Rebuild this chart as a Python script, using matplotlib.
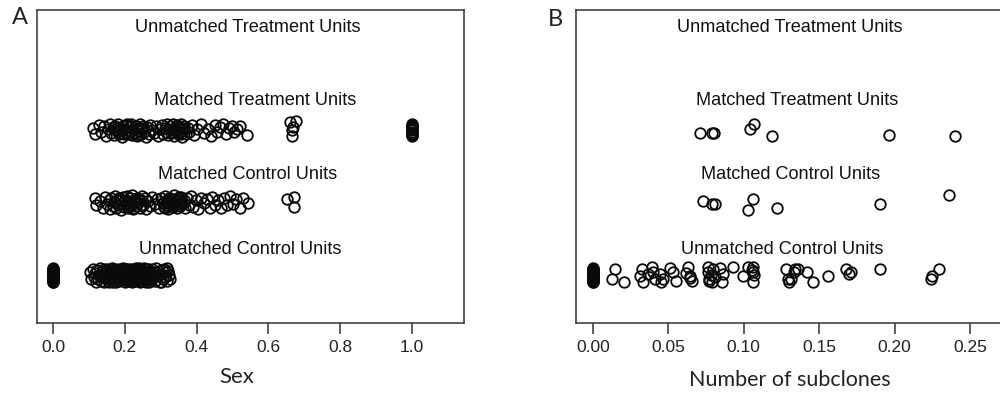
import matplotlib
matplotlib.use("Agg")
import matplotlib.pyplot as plt

# row positions (R MatchIt style jitter plot)
row_names = ["Unmatched Control Units", "Matched Control Units",
             "Matched Treatment Units", "Unmatched Treatment Units"]

# ---- panel A: Sex ----
a_mt = [(0.112, 0.03), (0.118, -0.06), (0.128, 0.07), (0.135, -0.02), (0.142, 0.05),
        (0.148, -0.08), (0.152, 0.01), (0.158, 0.08), (0.161, -0.04), (0.166, 0.04),
        (0.170, -0.07), (0.174, 0.06), (0.178, -0.01), (0.182, 0.09), (0.185, -0.05),
        (0.189, 0.02), (0.193, -0.09), (0.196, 0.05), (0.200, -0.03), (0.203, 0.07),
        (0.206, 0.00), (0.209, -0.06), (0.212, 0.04), (0.215, -0.02), (0.218, 0.08),
        (0.221, -0.07), (0.224, 0.02), (0.227, -0.04), (0.230, 0.06), (0.233, -0.08),
        (0.236, 0.03), (0.239, -0.01), (0.242, 0.09), (0.245, -0.05), (0.248, 0.01),
        (0.251, 0.06), (0.254, -0.03), (0.258, -0.09), (0.262, 0.04), (0.266, -0.06),
        (0.270, 0.07), (0.275, 0.00), (0.281, -0.04), (0.287, 0.05), (0.293, -0.08),
        (0.298, 0.02), (0.303, 0.07), (0.307, -0.05), (0.311, 0.03), (0.315, -0.02),
        (0.318, 0.08), (0.321, -0.07), (0.324, 0.01), (0.327, 0.05), (0.330, -0.04),
        (0.333, 0.09), (0.336, -0.08), (0.339, 0.02), (0.342, -0.01), (0.345, 0.06),
        (0.348, -0.06), (0.351, 0.04), (0.354, -0.03), (0.357, 0.08), (0.360, -0.09),
        (0.363, 0.01), (0.366, 0.05), (0.370, -0.05), (0.375, 0.03), (0.380, -0.02),
        (0.386, 0.07), (0.393, -0.07), (0.402, 0.02), (0.412, 0.08), (0.421, -0.04),
        (0.432, 0.01), (0.441, -0.08), (0.450, 0.07), (0.457, -0.02), (0.466, 0.04),
        (0.474, 0.08), (0.482, -0.05), (0.490, 0.03), (0.498, 0.06), (0.505, -0.03),
        (0.513, 0.01), (0.522, 0.05), (0.540, -0.07),
        (0.176, 0.02), (0.198, -0.06), (0.219, 0.05), (0.240, -0.07), (0.252, 0.03),
        (0.334, -0.02), (0.346, 0.07), (0.356, -0.06), (0.364, 0.03), (0.205, 0.09),
        (0.660, 0.11), (0.678, 0.12), (0.665, 0.00), (0.665, -0.08), (0.668, 0.04)]
a_mt_one_dy = [-0.08, -0.065, -0.05, -0.035, -0.02, -0.005, 0.01, 0.025, 0.04, 0.055, 0.07, 0.08]

a_mc = [(0.117, 0.06), (0.121, -0.04), (0.130, 0.02), (0.138, -0.08), (0.145, 0.08),
        (0.150, -0.02), (0.155, 0.04), (0.158, -0.09), (0.162, 0.07), (0.166, -0.05),
        (0.170, 0.01), (0.173, 0.09), (0.176, -0.07), (0.179, 0.03), (0.182, -0.03),
        (0.185, 0.06), (0.188, -0.10), (0.191, 0.00), (0.194, 0.08), (0.197, -0.06),
        (0.200, 0.04), (0.203, -0.02), (0.206, 0.09), (0.209, -0.08), (0.212, 0.02),
        (0.215, 0.06), (0.218, -0.04), (0.221, 0.10), (0.224, -0.09), (0.227, 0.01),
        (0.230, -0.05), (0.233, 0.07), (0.236, -0.01), (0.239, 0.05), (0.242, -0.07),
        (0.245, 0.03), (0.248, 0.09), (0.252, -0.03), (0.256, 0.06), (0.260, -0.09),
        (0.265, 0.02), (0.270, -0.05), (0.276, 0.08), (0.283, -0.02), (0.290, 0.05),
        (0.296, -0.08), (0.302, 0.07), (0.306, 0.00), (0.309, -0.06), (0.312, 0.09),
        (0.315, -0.03), (0.318, 0.04), (0.321, -0.09), (0.324, 0.07), (0.327, -0.01),
        (0.330, 0.05), (0.333, -0.06), (0.336, 0.10), (0.339, -0.04), (0.342, 0.02),
        (0.345, -0.08), (0.348, 0.06), (0.351, 0.00), (0.354, -0.05), (0.357, 0.08),
        (0.360, -0.02), (0.364, 0.04), (0.368, -0.07), (0.373, 0.06), (0.378, -0.03),
        (0.384, 0.09), (0.390, -0.06), (0.398, 0.03), (0.405, -0.09), (0.413, 0.07),
        (0.420, -0.01), (0.428, 0.05), (0.436, -0.07), (0.444, 0.08), (0.452, -0.03),
        (0.460, 0.04), (0.468, -0.08), (0.476, 0.06), (0.484, -0.04), (0.492, 0.09),
        (0.500, -0.02), (0.510, 0.05), (0.520, -0.07), (0.530, 0.07), (0.543, -0.01),
        (0.187, 0.04), (0.207, -0.05), (0.228, 0.05), (0.246, -0.04), (0.322, 0.01),
        (0.334, -0.03), (0.346, 0.03), (0.358, 0.00), (0.226, -0.07), (0.352, 0.08),
        (0.313, -0.07), (0.326, 0.06), (0.338, -0.01), (0.329, 0.02), (0.317, 0.00),
        (0.651, 0.05), (0.672, 0.08), (0.670, -0.06)]

a_uc = [(0.103, 0.05), (0.106, -0.06), (0.110, 0.09), (0.113, -0.02), (0.117, 0.03),
        (0.120, -0.09), (0.123, 0.07), (0.126, -0.05), (0.129, 0.00), (0.132, 0.10),
        (0.134, -0.08), (0.137, 0.04), (0.139, -0.03), (0.141, 0.08), (0.143, -0.10),
        (0.145, 0.02), (0.147, 0.06), (0.149, -0.06), (0.151, 0.09), (0.153, -0.01),
        (0.155, 0.05), (0.157, -0.09), (0.159, 0.01), (0.161, 0.07), (0.163, -0.04),
        (0.165, 0.10), (0.167, -0.07), (0.169, 0.03), (0.171, -0.02), (0.173, 0.08),
        (0.175, -0.10), (0.177, 0.04), (0.179, -0.05), (0.181, 0.00), (0.183, 0.09),
        (0.185, -0.08), (0.187, 0.06), (0.189, -0.03), (0.191, 0.02), (0.193, -0.06),
        (0.195, 0.10), (0.197, -0.01), (0.199, 0.05), (0.201, -0.09), (0.203, 0.07),
        (0.205, -0.04), (0.207, 0.01), (0.209, 0.08), (0.211, -0.07), (0.213, 0.03),
        (0.215, -0.02), (0.217, 0.09), (0.219, -0.10), (0.221, 0.04), (0.223, -0.05),
        (0.225, 0.06), (0.227, 0.00), (0.229, -0.08), (0.231, 0.10), (0.233, -0.03),
        (0.235, 0.05), (0.237, -0.06), (0.239, 0.02), (0.241, 0.08), (0.243, -0.09),
        (0.245, 0.01), (0.247, -0.04), (0.249, 0.07), (0.251, -0.01), (0.253, 0.10),
        (0.255, -0.07), (0.257, 0.03), (0.259, -0.05), (0.261, 0.09), (0.263, -0.02),
        (0.265, 0.05), (0.267, -0.10), (0.269, 0.06), (0.271, 0.00), (0.273, -0.06),
        (0.276, 0.08), (0.279, -0.03), (0.282, 0.04), (0.285, -0.08), (0.288, 0.10),
        (0.291, -0.01), (0.294, 0.06), (0.297, -0.09), (0.300, 0.02), (0.303, 0.07),
        (0.306, -0.05), (0.309, 0.09), (0.312, -0.02), (0.315, 0.04), (0.318, -0.08),
        (0.321, 0.06), (0.324, 0.00), (0.327, -0.06), (0.318, 0.10), (0.300, -0.10),
        (0.146, -0.04), (0.158, 0.06), (0.168, -0.09), (0.176, 0.07), (0.184, -0.02),
        (0.192, 0.05), (0.198, -0.07), (0.204, 0.09), (0.210, -0.05), (0.216, 0.02),
        (0.222, -0.08), (0.228, 0.07), (0.234, -0.01), (0.240, 0.10), (0.246, -0.06),
        (0.252, 0.04), (0.258, -0.09), (0.264, 0.08), (0.270, -0.04), (0.180, 0.03),
        (0.152, 0.03), (0.162, -0.03), (0.172, 0.05), (0.182, -0.06), (0.190, 0.08),
        (0.196, -0.04), (0.202, 0.02), (0.208, -0.08), (0.214, 0.06), (0.220, -0.01),
        (0.226, 0.09), (0.232, -0.05), (0.238, 0.03), (0.244, -0.08), (0.250, 0.06),
        (0.256, 0.00), (0.262, -0.07), (0.268, 0.04), (0.274, -0.02), (0.186, 0.01)]
a_uc_zero_dy = [-0.10, -0.09, -0.08, -0.07, -0.06, -0.05, -0.04, -0.03, -0.02, -0.01, 0.0,
                0.01, 0.02, 0.03, 0.04, 0.05, 0.06, 0.07, 0.08, 0.09, 0.10]

a_ticks = [0.0, 0.2, 0.4, 0.6, 0.8, 1.0]
a_ticklabels = ["0.0", "0.2", "0.4", "0.6", "0.8", "1.0"]

# ---- panel B: Number of subclones ----
b_mt = [(0.071, -0.04), (0.079, -0.04), (0.0805, -0.04), (0.104, 0.01), (0.1065, 0.08),
        (0.119, -0.08), (0.196, -0.07), (0.240, -0.08)]
b_mc = [(0.073, 0.02), (0.079, -0.02), (0.081, -0.02), (0.103, -0.10), (0.106, 0.05),
        (0.122, -0.08), (0.190, -0.02), (0.236, 0.10)]
b_uc = [(0.0148, 0.08), (0.0126, -0.055), (0.021, -0.10), (0.0324, 0.08), (0.0313, -0.01),
        (0.0335, -0.10), (0.039, 0.11), (0.040, 0.04), (0.041, -0.055), (0.0446, 0.01),
        (0.0468, -0.055), (0.0512, 0.10), (0.0534, 0.04), (0.0554, -0.08), (0.0633, 0.11),
        (0.0644, -0.01), (0.0656, -0.08), (0.0766, 0.11), (0.0766, 0.04), (0.0772, -0.055),
        (0.0788, -0.10), (0.0799, 0.08), (0.0843, 0.10), (0.0854, -0.10), (0.0931, 0.11),
        (0.0997, -0.01), (0.103, 0.11), (0.106, 0.11), (0.106, 0.04), (0.106, -0.10),
        (0.128, 0.08), (0.131, -0.055), (0.134, 0.08), (0.136, 0.08), (0.142, 0.04),
        (0.146, -0.10), (0.156, -0.01), (0.168, 0.08), (0.170, 0.01), (0.190, 0.08),
        (0.2245, -0.01), (0.229, 0.08), (0.224, -0.05), (0.0785, 0.0), (0.081, -0.03),
        (0.107, 0.0), (0.130, -0.09), (0.133, 0.04), (0.171, 0.05), (0.0365, 0.02),
        (0.045, -0.09), (0.062, 0.03), (0.086, 0.02), (0.1055, 0.07), (0.0645, -0.04),
        (0.129, -0.05), (0.077, -0.08)]
b_uc_zero_dy = [-0.10, -0.09, -0.08, -0.07, -0.06, -0.05, -0.04, -0.03, -0.02, -0.01, 0.0,
                0.01, 0.02, 0.03, 0.04, 0.05, 0.06, 0.07, 0.08, 0.09, 0.10]

b_ticks = [0.00, 0.05, 0.10, 0.15, 0.20, 0.25]
b_ticklabels = ["0.00", "0.05", "0.10", "0.15", "0.20", "0.25"]


def draw_row(ax, pts, row):
    xs = [p[0] for p in pts]
    ys = [row + p[1] for p in pts]
    ax.plot(xs, ys, "o", ms=7.6, mfc="none", mec="#0a0a0a", mew=1.3, ls="none",
            clip_on=False)


def setup_panel(ax, xlim, ticks, ticklabels, label_x):
    ax.set_xlim(*xlim)
    ax.set_ylim(0.34, 4.655)
    ax.set_yticks([])
    ax.set_xticks(ticks)
    ax.set_xticklabels(ticklabels, fontsize=12.5, family="Liberation Sans", color="#222222")
    ax.tick_params(axis="x", direction="out", length=8, width=1.1, pad=4, color="#333333")
    for s in ax.spines.values():
        s.set_linewidth(1.1)
        s.set_color("#333333")
    label_y = [1.36, 2.39, 3.41, 4.42]
    for name, lx, ly in zip(row_names, label_x, label_y):
        ax.text(lx, ly, name, ha="center", va="center", fontsize=13.1,
                family="Liberation Sans", color="#111111")


fig = plt.figure(figsize=(10, 3.94), dpi=100)

axA = fig.add_axes([0.037, 0.1802, 0.427, 0.7944])
setup_panel(axA, (-0.0446, 1.1448), a_ticks, a_ticklabels, [0.521, 0.543, 0.563, 0.543])
draw_row(axA, a_uc, 1)
draw_row(axA, [(0.0, d) for d in a_uc_zero_dy], 1)
draw_row(axA, a_mc, 2)
draw_row(axA, a_mt, 3)
draw_row(axA, [(1.0, d) for d in a_mt_one_dy], 3)

axB = fig.add_axes([0.5757, 0.1802, 0.4267, 0.7944])
setup_panel(axB, (-0.0113, 0.2713), b_ticks, b_ticklabels, [0.1254, 0.1307, 0.1353, 0.1307])
draw_row(axB, b_uc, 1)
draw_row(axB, [(0.0, d) for d in b_uc_zero_dy], 1)
draw_row(axB, b_mc, 2)
draw_row(axB, b_mt, 3)

# axis titles and panel letters
fig.text(0.237, 1 - 377 / 394, "Sex", ha="center", va="center", fontsize=16, family="Lato",
         color="#222222")
fig.text(0.7895, 1 - 380 / 394, "Number of subclones", ha="center", va="center", fontsize=15.5,
         family="Lato", color="#222222")
fig.text(0.020, 1 - 18 / 394, "A", ha="center", va="center", fontsize=17, family="Lato",
         color="#222222")
fig.text(0.555, 1 - 19 / 394, "B", ha="center", va="center", fontsize=17, family="Lato",
         color="#222222")

fig.savefig("out.png", dpi=100)
